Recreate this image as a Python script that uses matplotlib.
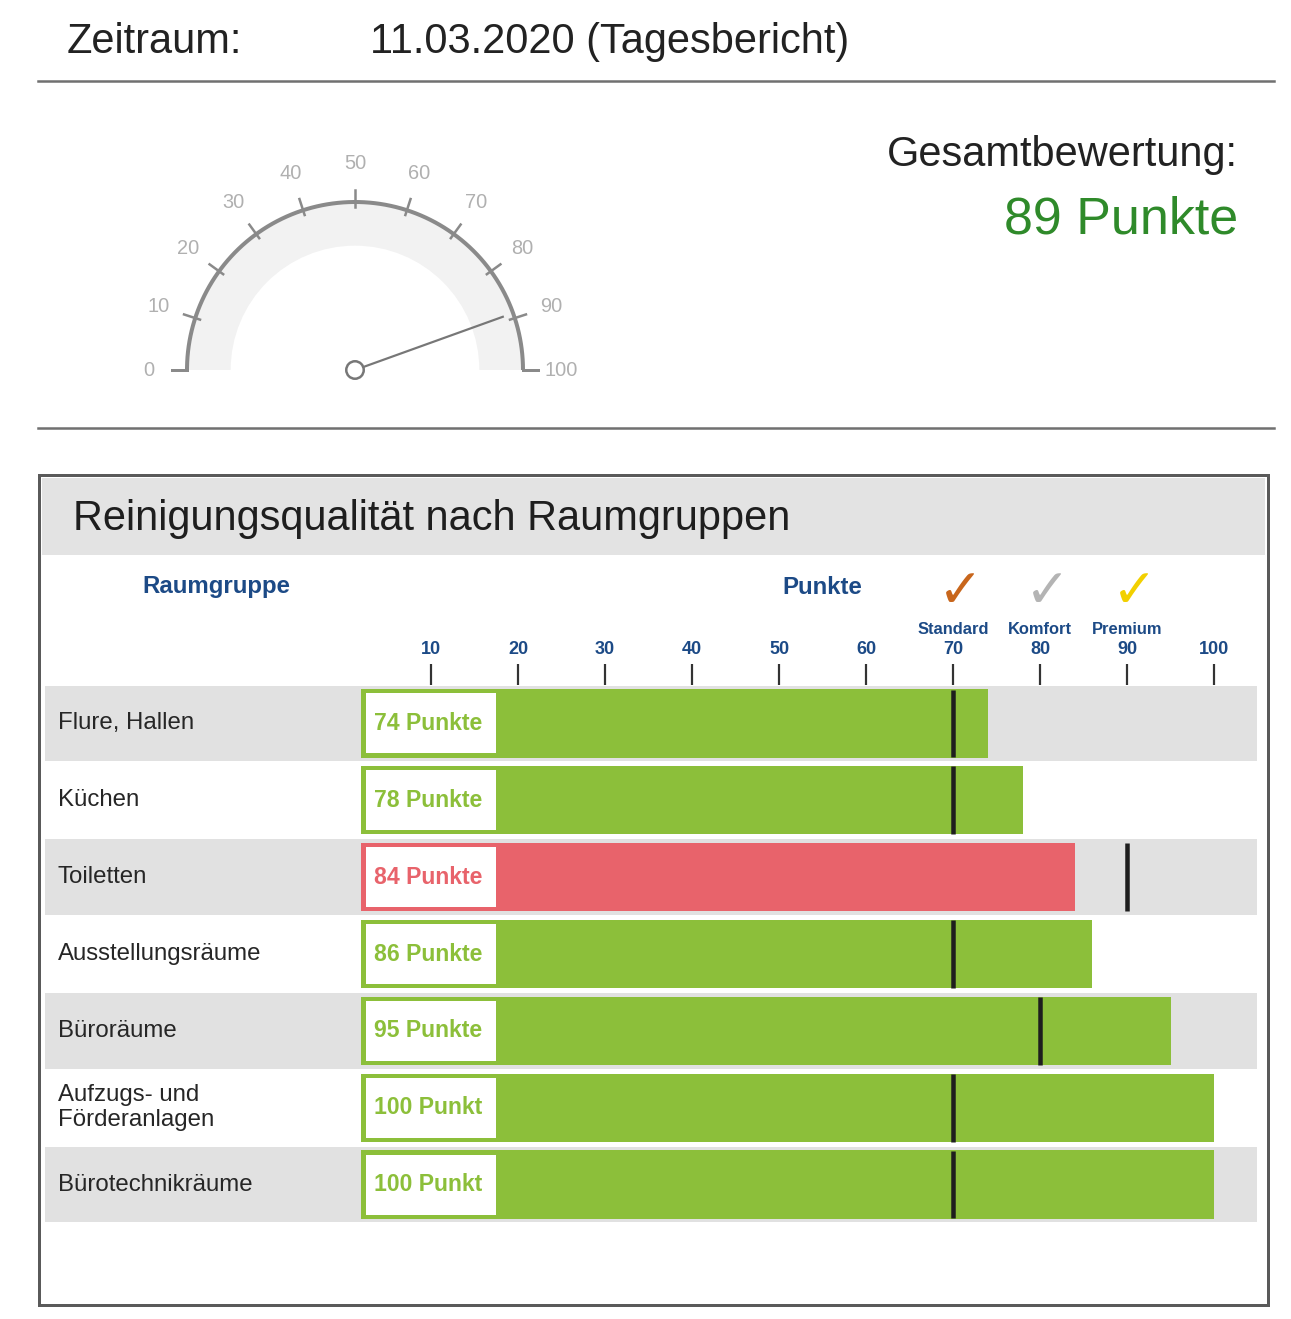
import matplotlib
matplotlib.use('Agg')
import matplotlib.pyplot as plt
import matplotlib.patches as mpatches
import matplotlib.transforms as mtransforms
from matplotlib.lines import Line2D
import numpy as np

plt.rcParams['font.family'] = ['Liberation Sans', 'DejaVu Sans']

# Daten
zeitraum = '11.03.2020 (Tagesbericht)'
gesamt_punkte = 89
gauge_ticks = list(range(0, 101, 10))

raumgruppen = ['Flure, Hallen', 'Küchen', 'Toiletten', 'Ausstellungsräume',
               'Büroräume', 'Aufzugs- und\nFörderanlagen', 'Bürotechnikräume']
punkte = [74, 78, 84, 86, 95, 100, 100]
soll = [70, 70, 90, 70, 80, 70, 70]
stufen = ['Standard', 'Komfort', 'Premium']
stufen_werte = [70, 80, 90]
stufen_farben = ['#c8661c', '#b4b4b4', '#f2d000']
achse_ticks = list(range(10, 101, 10))

GRUEN = '#8cbf3a'
ROT = '#e8636b'
BLAU = '#1c4a86'

W, H = 1291, 1319
fig = plt.figure(figsize=(W / 100, H / 100), dpi=100)


def px(x, y):
    return x / W, 1 - y / H


def box(x0, y0, x1, y1):
    return [x0 / W, 1 - y1 / H, (x1 - x0) / W, (y1 - y0) / H]


def pt(p):
    # Pixel -> Punkt
    return p * 72 / 100


# Kopfzeile
fig.text(*px(67, 53), 'Zeitraum:', fontsize=pt(41.5), color='#222222')
fig.text(*px(370, 53), zeitraum, fontsize=pt(41.5), color='#222222')
for y in (81, 428):
    fig.add_artist(Line2D([38 / W, 1274 / W], [1 - y / H] * 2,
                          lw=pt(2.5), color='#707070'))

fig.text(*px(1238, 166), 'Gesamtbewertung:', ha='right',
         fontsize=pt(41.5), color='#222222')
fig.text(*px(1238, 233), f'{gesamt_punkte} Punkte', ha='right',
         fontsize=pt(52), color='#2f8a2a')

# Tacho
R = 168
gx = fig.add_axes(box(120, 130, 600, 400))
gx.set_xlim(-(355 - 120) / R, (600 - 355) / R)
gx.set_ylim(-(400 - 370) / R, (370 - 130) / R)
gx.axis('off')

gx.add_patch(mpatches.Wedge((0, 0), 1.0, 0, 180, width=0.26,
                            fc='#f2f2f2', ec='none'))
theta = np.linspace(0, np.pi, 200)
gx.plot(np.cos(theta), np.sin(theta), color='#8a8a8a', lw=pt(4),
        solid_capstyle='butt')
for v in gauge_ticks:
    a = np.pi * (1 - v / 100)
    c, s = np.cos(a), np.sin(a)
    if v in (gauge_ticks[0], gauge_ticks[-1]):
        gx.plot([c, 1.09 * c], [0, 0], color='#8a8a8a', lw=pt(3))
    else:
        gx.plot([0.97 * c, 1.07 * c], [0.97 * s, 1.07 * s],
                color='#8a8a8a', lw=pt(2.5))
    gx.text(1.23 * c, 1.23 * s, str(v), ha='center', va='center',
            fontsize=pt(20), color='#b0b0b0')

a = np.pi * (1 - gesamt_punkte / 100)
gx.plot([0.05 * np.cos(a), 0.935 * np.cos(a)],
        [0.05 * np.sin(a), 0.935 * np.sin(a)], color='#777777', lw=pt(2.2))
gx.add_patch(mpatches.Circle((0, 0), 0.052, fc='white', ec='#777777',
                             lw=pt(2.5), zorder=5))

# Rahmen und Titel
fig.add_artist(mpatches.Rectangle((42 / W, 1 - 555 / H), (1265 - 42) / W,
                                  (555 - 478) / H, transform=fig.transFigure,
                                  fc='#e3e3e3', ec='none'))
fig.add_artist(mpatches.Rectangle((39 / W, 1 - 1305 / H), (1268 - 39) / W,
                                  (1305 - 475) / H, transform=fig.transFigure,
                                  fill=False, ec='#5a5a5a', lw=pt(3)))
fig.text(*px(73, 530), 'Reinigungsqualität nach Raumgruppen',
         fontsize=pt(41.5), color='#1e1e1e')

fig.text(*px(216, 587), 'Raumgruppe', ha='center', va='center',
         fontsize=pt(24), weight='bold', color=BLAU)
fig.text(*px(822, 587), 'Punkte', ha='center', va='center',
         fontsize=pt(24), weight='bold', color=BLAU)

# Balkendiagramm
x0px, scale = 344, 8.7
ax = fig.add_axes(box(45, 685, 1257, 1223))
ax.set_xlim((45 - x0px) / scale, (1257 - x0px) / scale)
n = len(raumgruppen)
ax.set_ylim(n - 0.5, -0.5)
for sp in ax.spines.values():
    sp.set_visible(False)

for i in range(0, n, 2):
    ax.axhspan(i - 0.49, i + 0.49, color='#e1e1e1', lw=0, zorder=0)

bar_start = 2
farben = [GRUEN if p >= s else ROT for p, s in zip(punkte, soll)]
ypos = np.arange(n)
ax.barh(ypos, [p - bar_start for p in punkte], left=bar_start, height=0.89,
        color=farben, zorder=2)
ax.vlines(soll, ypos - 0.44, ypos + 0.44, color='#1e1e1e', lw=pt(4.5),
          zorder=4)

box_r = 17.45
clip_trans = mtransforms.blended_transform_factory(ax.transData, ax.transAxes)
for i, (p, f) in enumerate(zip(punkte, farben)):
    x_l, y_b, y_t = bar_start + 0.5, i - 0.39, i + 0.39
    ax.add_patch(mpatches.Rectangle((x_l, y_b), box_r - x_l, y_t - y_b,
                                    fc='white', ec='none', zorder=3))
    t = ax.text(bar_start + 1.5, i, f'{p} Punkte', ha='left', va='center',
                fontsize=pt(23), weight='bold', color=f, zorder=5)
    t.set_clip_path(None)
    t.set_clip_box(mtransforms.TransformedBbox(
        mtransforms.Bbox.from_extents(x_l, 0, 15.95, 1), clip_trans))
    t.set_clip_on(True)
    ax.text((58 - x0px) / scale, i, raumgruppen[i], ha='left', va='center',
            fontsize=pt(24), color='#262626', linespacing=1.2)

ax.set_yticks([])
ax.set_xticks(achse_ticks)
ax.xaxis.tick_top()
ax.tick_params(axis='x', length=pt(21), width=pt(2.2), color='#333333',
               labelcolor=BLAU, labelsize=pt(18), pad=pt(6))
for lbl in ax.get_xticklabels():
    lbl.set_fontweight('bold')

# Legende der Stufen
trans = mtransforms.blended_transform_factory(ax.transData, fig.transFigure)
for v, name, c in zip(stufen_werte, stufen, stufen_farben):
    ax.text(v, 1 - 629 / H, name, transform=trans, ha='center', va='center',
            fontsize=pt(16.5), weight='bold', color=BLAU)
    ax.text(v + 0.9, 1 - 592 / H, '✓', transform=trans, ha='center',
            va='center', fontsize=pt(54), color=c, family='DejaVu Sans')

fig.savefig('out.png', dpi=100)
